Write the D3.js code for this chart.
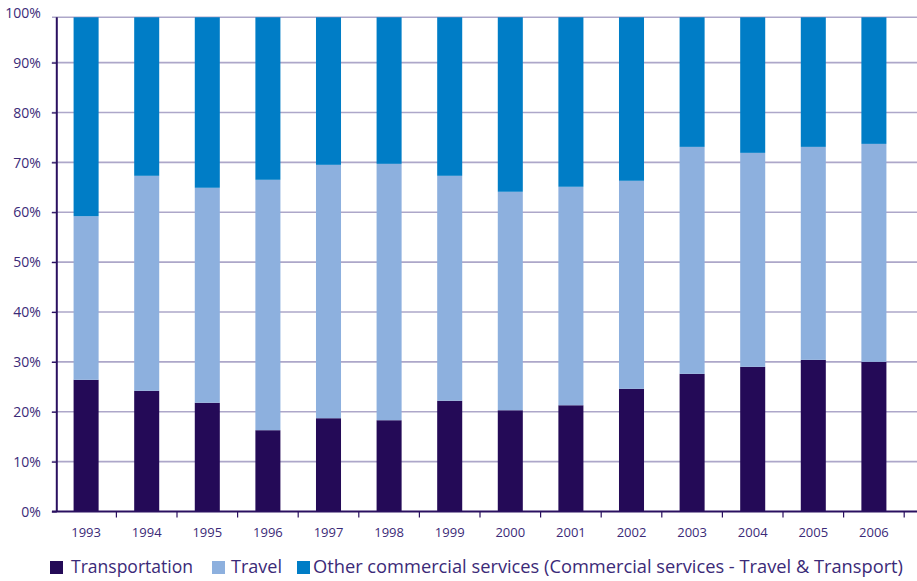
<!DOCTYPE html>
<html>
<head>
<meta charset="utf-8">
<script src="https://cdn.jsdelivr.net/npm/d3@7"></script>
<style>
  html, body { margin: 0; padding: 0; background: #fff; }
  svg { display: block; }
  text { font-family: "Open Sans", "Noto Sans", sans-serif; fill: #3B2A78; }
</style>
</head>
<body>
<svg id="chart" width="917" height="581"></svg>
<script>
const years = ["1993","1994","1995","1996","1997","1998","1999","2000","2001","2002","2003","2004","2005","2006"];
const transportation = [26.4, 24.2, 21.8, 16.3, 18.7, 18.3, 22.2, 20.3, 21.3, 24.6, 27.6, 29.0, 30.4, 30.0];
const travel         = [32.8, 43.1, 43.1, 50.2, 50.8, 51.4, 45.1, 43.8, 43.8, 41.7, 45.5, 42.9, 42.7, 43.7];
const other          = [40.8, 32.7, 35.1, 33.5, 30.5, 30.3, 32.7, 35.9, 34.9, 33.7, 26.9, 28.1, 26.9, 26.3];
const seriesNames = ["Transportation", "Travel", "Other commercial services (Commercial services - Travel & Transport)"];
const seriesColors = ["#240A57", "#8DB0DE", "#007DC6"];
const yTicks = [0, 10, 20, 30, 40, 50, 60, 70, 80, 90, 100];

const svg = d3.select("#chart");
const plotTop = 17.3;
const x = d3.scaleBand().domain(years).range([55.8, 904.2]).paddingInner(0.587).paddingOuter(0.2935);
const xb = d3.scaleBand().domain(years).range([55.8, 904.2]).padding(0);
const y = d3.scaleLinear().domain([0, 100]).range([511.5, 12.7]);

svg.append("defs").append("clipPath").attr("id", "plotclip")
  .append("rect").attr("x", 0).attr("y", plotTop).attr("width", 917).attr("height", y(0) - plotTop + 1);

// gridlines
svg.append("g").selectAll("line").data(yTicks.filter(d => d > 0 && d < 100)).join("line")
  .attr("x1", 52).attr("x2", 917)
  .attr("y1", d => y(d)).attr("y2", d => y(d))
  .attr("stroke", "#ADA7C9").attr("stroke-width", 1.6);
// top frame line of the plot area
svg.append("line").attr("x1", 52).attr("x2", 917).attr("y1", plotTop).attr("y2", plotTop)
  .attr("stroke", "#ADA7C9").attr("stroke-width", 1.6);

// stacked data
const rows = years.map((yr, i) => ({year: yr, t: transportation[i], tr: travel[i], o: other[i]}));
const stacked = d3.stack().keys(["t", "tr", "o"])(rows);

svg.append("g").attr("clip-path", "url(#plotclip)")
  .selectAll("g").data(stacked).join("g")
  .attr("fill", (d, i) => seriesColors[i])
  .selectAll("rect").data(d => d).join("rect")
  .attr("x", d => x(d.data.year))
  .attr("width", x.bandwidth())
  .attr("y", d => y(d[1]))
  .attr("height", d => y(d[0]) - y(d[1]));

// y axis
const yAxis = d3.axisLeft(y).tickValues(yTicks).tickFormat(d => d + "%").tickSize(5).tickPadding(11);
const gy = svg.append("g").attr("transform", "translate(56.8,0)").call(yAxis);
gy.select(".domain").attr("stroke", "#2A1060").attr("stroke-width", 2).attr("d", `M0,${plotTop}V${y(0)}`);
gy.selectAll(".tick line").attr("stroke", "#2A1060").attr("stroke-width", 1.2);
gy.selectAll(".tick").filter(d => d === 100).select("line").remove();
gy.selectAll(".tick text").style("font-size", "14px").style("fill", "#3B2A78")
  .style("font-family", "'Open Sans', sans-serif").attr("dy", "0.34em");

// x axis
const gx = svg.append("g").attr("transform", `translate(0,${y(0)})`);
gx.append("line").attr("x1", 52).attr("x2", 917).attr("y1", 0).attr("y2", 0)
  .attr("stroke", "#2A1060").attr("stroke-width", 2);
const boundaries = years.map(yr => xb(yr) + xb.bandwidth());
gx.selectAll("line.tk").data(boundaries).join("line").attr("class", "tk")
  .attr("x1", d => d).attr("x2", d => d).attr("y1", 0).attr("y2", 6)
  .attr("stroke", "#2A1060").attr("stroke-width", 1.2);
const xAxis = d3.axisBottom(x).tickSize(0).tickPadding(16);
const gx2 = svg.append("g").attr("transform", `translate(0,${y(0)})`).call(xAxis);
gx2.select(".domain").remove();
gx2.selectAll(".tick text").style("font-size", "13px").style("fill", "#3B2A78")
  .style("font-family", "'Open Sans', sans-serif");

// legend
const legendItems = [
  {sx: 50, tx: 71, tw: 122},
  {sx: 212, tx: 231, tw: 51},
  {sx: 297, tx: 313, tw: 590}
];
const lg = svg.append("g");
legendItems.forEach((it, i) => {
  lg.append("rect").attr("x", it.sx).attr("y", 561).attr("width", 13).attr("height", 13).attr("fill", seriesColors[i]);
  lg.append("text").attr("x", it.tx).attr("y", 573)
    .attr("textLength", it.tw).attr("lengthAdjust", "spacingAndGlyphs")
    .style("font-size", "18px").text(seriesNames[i]);
});
</script>
</body>
</html>
